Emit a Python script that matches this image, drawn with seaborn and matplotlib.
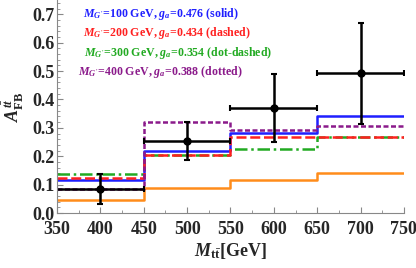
import numpy as np
import pandas as pd
import seaborn as sns
from matplotlib import pyplot as plt
from matplotlib.ticker import MultipleLocator

# bin edges in M_tt and predicted asymmetry per bin
edges = [350, 450, 550, 650, 750]
blue_vals = [0.117, 0.219, 0.281, 0.341]
red_vals = [0.123, 0.206, 0.269, 0.269]
green_vals = [0.139, 0.206, 0.224, 0.269]
purple_vals = [0.085, 0.320, 0.293, 0.308]
orange_vals = [0.046, 0.089, 0.116, 0.142]

# measured points
data_x = [400, 500, 600, 700]
data_y = [0.084, 0.255, 0.369, 0.493]
err_up = [0.054, 0.067, 0.119, 0.177]
err_dn = [0.052, 0.069, 0.120, 0.178]
err_x = [50, 50, 50, 50]

labels = [r'$M_{G^{\prime}}$=100 GeV, $g_a$=0.476 (solid)',
          r'$M_{G^{\prime}}$=200 GeV, $g_a$=0.434 (dashed)',
          r'$M_{G^{\prime}}$=300 GeV, $g_a$=0.354 (dot-dashed)',
          r'$M_{G^{\prime}}$=400 GeV, $g_a$=0.388 (dotted)']

sns.set_style('ticks')
plt.rcParams['font.family'] = ['Liberation Serif', 'DejaVu Serif']
plt.rcParams['font.weight'] = 'bold'
plt.rcParams['mathtext.fontset'] = 'custom'
plt.rcParams['mathtext.rm'] = 'Liberation Serif:bold'
plt.rcParams['mathtext.it'] = 'Liberation Serif:italic:bold'
plt.rcParams['mathtext.bf'] = 'Liberation Serif:bold'

fig = plt.figure(figsize=(4.16, 2.68), dpi=100)
ax = fig.add_axes([0.137, 0.205, 0.834, 0.795])


def step(vals, color, ls, lw):
    df = pd.DataFrame({'x': edges, 'y': vals + [vals[-1]]})
    sns.lineplot(data=df, x='x', y='y', ax=ax, color=color, linestyle=ls,
                 linewidth=lw, drawstyle='steps-post', sort=False)


step(orange_vals, '#ff8c1a', '-', 1.8)
step(green_vals, '#22aa22', (0, (5, 1.5, 1, 1.5)), 1.8)
step(blue_vals, '#1f1fff', '-', 1.8)
step(red_vals, '#ff2020', (0, (4, 1.5)), 1.8)
step(purple_vals, '#8b1a8b', (0, (2, 1)), 1.8)

ax.errorbar(data_x, data_y, xerr=err_x, yerr=[err_dn, err_up], fmt='o',
            color='black', ms=5, elinewidth=1.8, capsize=2, capthick=1.5)

colors = ['#1f1fff', '#ff2020', '#22aa22', '#8b1a8b']
text_x = [0.075, 0.075, 0.078, 0.06]
for i, (lab, c) in enumerate(zip(labels, colors)):
    ax.text(text_x[i], 0.934 - i * 0.091, lab, transform=ax.transAxes,
            color=c, fontsize=8.6, fontweight='bold', va='center')

ax.set_xlim(350, 750)
ax.set_ylim(0, 0.75)
ax.xaxis.set_major_locator(MultipleLocator(50))
ax.xaxis.set_minor_locator(MultipleLocator(25))
ax.yaxis.set_major_locator(MultipleLocator(0.1))
ax.yaxis.set_minor_locator(MultipleLocator(0.02))
ax.yaxis.set_major_formatter(plt.FuncFormatter(lambda v, p: f'{v:.1f}'))
ax.tick_params(which='both', direction='in', color='#888888')
ax.tick_params(which='major', length=4, labelsize=13)
ax.tick_params(which='minor', length=2)
ax.tick_params(axis='x', which='major', pad=6)
ax.tick_params(axis='y', which='major', pad=2)
for t in ax.get_xticklabels() + ax.get_yticklabels():
    t.set_fontweight('bold')
sns.despine(ax=ax)
for s in ['left', 'bottom']:
    ax.spines[s].set_color('#888888')
    ax.spines[s].set_linewidth(0.8)

ax.set_xlabel(r'$M_{\rm t\bar{t}}$[GeV]', fontsize=13, fontweight='bold', labelpad=2)
ax.set_ylabel(r'$A_{\rm FB}^{t\bar{t}}$', fontsize=13, fontweight='bold')

fig.savefig('out.png', dpi=100)
